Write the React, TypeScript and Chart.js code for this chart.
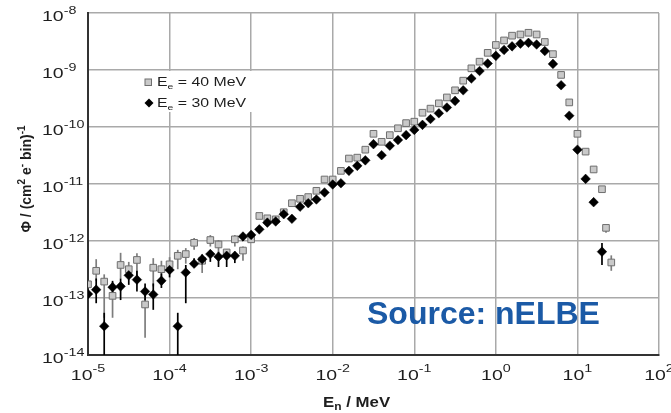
import React, { useEffect, useRef } from 'react';
import { Chart, registerables } from 'chart.js';

Chart.register(...registerables);

// ---------- data ----------
const energy30 = [
  1.0e-5, 1.26e-5, 1.58e-5, 2.0e-5, 2.51e-5, 3.16e-5, 3.98e-5, 5.01e-5, 6.31e-5, 7.94e-5,
  1.0e-4, 1.26e-4, 1.58e-4, 2.0e-4, 2.51e-4, 3.16e-4, 3.98e-4, 5.01e-4, 6.31e-4, 7.94e-4,
  1.0e-3, 1.26e-3, 1.58e-3, 2.0e-3, 2.51e-3, 3.16e-3, 3.98e-3, 5.01e-3, 6.31e-3, 7.94e-3,
  1.0e-2, 1.26e-2, 1.58e-2, 2.0e-2, 2.51e-2, 3.16e-2, 3.98e-2, 5.01e-2, 6.31e-2, 7.94e-2,
  1.0e-1, 1.26e-1, 1.58e-1, 2.0e-1, 2.51e-1, 3.16e-1, 3.98e-1, 5.01e-1, 6.31e-1, 7.94e-1,
  1.0, 1.26, 1.58, 2.0, 2.51, 3.16, 3.98, 5.01, 6.31, 7.94,
  10.0, 12.6, 15.8, 20.0,
];
const flux30 = [
  1.17e-13, 1.4e-13, 3.2e-14, 1.55e-13, 1.6e-13, 2.5e-13, 2.1e-13, 1.3e-13, 1.15e-13, 2.0e-13,
  3.1e-13, 3.2e-14, 2.8e-13, 4.0e-13, 4.8e-13, 5.9e-13, 5.3e-13, 5.5e-13, 5.5e-13, 1.2e-12,
  1.28e-12, 1.6e-12, 2.1e-12, 2.2e-12, 2.95e-12, 2.45e-12, 4.0e-12, 4.6e-12, 5.35e-12, 7.1e-12,
  9.8e-12, 1.03e-11, 1.7e-11, 2.08e-11, 2.6e-11, 5.0e-11, 3.2e-11, 4.7e-11, 5.9e-11, 7.2e-11,
  8.9e-11, 1.09e-10, 1.38e-10, 1.74e-10, 2.2e-10, 2.87e-10, 4.4e-10, 7.1e-10, 9.6e-10, 1.3e-9,
  1.77e-9, 2.25e-9, 2.6e-9, 2.9e-9, 3.0e-9, 2.8e-9, 2.15e-9, 1.28e-9, 5.4e-10, 1.58e-10,
  4.0e-11, 1.23e-11, 4.8e-12, 6.5e-13,
];
const energy40 = [...energy30, 22.4, 26.0];
const flux40 = [
  1.74e-13, 3.0e-13, 1.94e-13, 1.09e-13, 3.8e-13, 3.2e-13, 4.65e-13, 7.7e-14, 3.4e-13, 3.2e-13,
  3.9e-13, 5.5e-13, 5.9e-13, 9.3e-13, 4.5e-13, 1.04e-12, 8.7e-13, 6.3e-13, 1.07e-12, 6.8e-13,
  1.07e-12, 2.75e-12, 2.5e-12, 2.4e-12, 3.2e-12, 4.6e-12, 5.5e-12, 5.9e-12, 7.6e-12, 1.2e-11,
  1.2e-11, 1.7e-11, 2.8e-11, 2.9e-11, 4.0e-11, 7.6e-11, 5.5e-11, 7.2e-11, 9.5e-11, 1.17e-10,
  1.24e-10, 1.78e-10, 2.1e-10, 2.6e-10, 3.3e-10, 4.4e-10, 6.5e-10, 1.07e-9, 1.4e-9, 2.0e-9,
  2.75e-9, 3.3e-9, 4.0e-9, 4.2e-9, 4.5e-9, 4.2e-9, 3.1e-9, 1.9e-9, 8.2e-10, 2.7e-10,
  7.6e-11, 3.7e-11, 1.8e-11, 8.1e-12, 1.7e-12, 4.2e-13,
];
// [point index, lower end, upper end]
const errBars30: [number, number, number][] = [
  [1, 8.1e-14, 2.2e-13], [2, 5e-15, 5.5e-14], [3, 1.2e-13, 2.0e-13], [4, 9.2e-14, 2.2e-13],
  [5, 1.7e-13, 3.5e-13], [6, 1.3e-13, 3.0e-13], [7, 9e-14, 1.8e-13], [8, 6.2e-14, 1.8e-13],
  [9, 1.5e-13, 2.7e-13], [10, 2.3e-13, 4.0e-13], [11, 5e-15, 5.5e-14], [12, 8.1e-14, 3.8e-13],
  [13, 3.5e-13, 5.0e-13], [14, 3.8e-13, 5.8e-13], [15, 4.3e-13, 7.0e-13], [16, 3.5e-13, 6.5e-13],
  [17, 3.5e-13, 6.5e-13], [18, 4.1e-13, 6.5e-13], [19, 1.0e-12, 1.4e-12], [63, 3.8e-13, 9.2e-13],
];
const errBars40: [number, number, number][] = [
  [1, 2.0e-13, 4.8e-13], [2, 4.5e-14, 2.6e-13], [3, 4.5e-14, 1.9e-13], [4, 2.2e-13, 6.2e-13],
  [5, 2.3e-13, 4.3e-13], [6, 2.1e-13, 6.1e-13], [7, 2.0e-14, 1.1e-13], [8, 1.6e-13, 5.0e-13],
  [9, 2.2e-13, 4.5e-13], [10, 2.8e-13, 5.2e-13], [11, 3.2e-13, 7.0e-13], [12, 4.0e-13, 7.5e-13],
  [13, 7.0e-13, 1.13e-12], [14, 2.75e-13, 5.7e-13], [15, 8e-13, 1.27e-12], [16, 6.5e-13, 1.04e-12],
  [17, 5e-13, 7.2e-13], [18, 8e-13, 1.27e-12], [19, 4.5e-13, 8e-13], [64, 1.4e-12, 1.9e-12],
  [65, 3.0e-13, 5.6e-13],
];
const xTicks = [1e-5, 1e-4, 1e-3, 1e-2, 1e-1, 1, 10, 100];
const xTickExps = ['-5', '-4', '-3', '-2', '-1', '0', '1', '2'];
const yTicks = [1e-14, 1e-13, 1e-12, 1e-11, 1e-10, 1e-9, 1e-8];
const yTickExps = ['-14', '-13', '-12', '-11', '-10', '-9', '-8'];
const seriesEnergies = ['40 MeV', '30 MeV'];
const sourceText = 'Source: nELBE';

// ---------- styles ----------
const FAMILY = "'Liberation Sans', Arial, Helvetica, sans-serif";
const GREY_FILL = '#c9c9c9';
const GREY_EDGE = '#6f6f6f';
const GREY_BAR = '#7d7d7d';
const BLACK = '#000000';
const TEXT = '#1e1e1e';

type Seg = { t: string; size: number; dy?: number; bold?: boolean };

function segFont(s: Seg) {
  return `${s.bold ? 'bold ' : ''}${s.size}px ${FAMILY}`;
}
function richWidth(ctx: CanvasRenderingContext2D, segs: Seg[], hs: number) {
  let w = 0;
  for (const s of segs) {
    ctx.font = segFont(s);
    w += ctx.measureText(s.t).width * hs;
  }
  return w;
}
function drawRich(
  ctx: CanvasRenderingContext2D,
  segs: Seg[],
  x: number,
  y: number,
  hs: number,
  align: 'left' | 'center' | 'right',
  color: string
) {
  const w = richWidth(ctx, segs, hs);
  let cx = align === 'left' ? x : align === 'center' ? x - w / 2 : x - w;
  ctx.save();
  ctx.fillStyle = color;
  ctx.textAlign = 'left';
  ctx.textBaseline = 'alphabetic';
  for (const s of segs) {
    ctx.font = segFont(s);
    const sw = ctx.measureText(s.t).width * hs;
    ctx.save();
    ctx.translate(cx, y + (s.dy || 0));
    ctx.scale(hs, 1);
    ctx.fillText(s.t, 0, 0);
    ctx.restore();
    cx += sw;
  }
  ctx.restore();
}

const errorBarPlugin = {
  id: 'errorBars',
  beforeDatasetsDraw(chart: any) {
    const { ctx, chartArea, scales } = chart;
    const xs = scales.x;
    const ys = scales.y;
    ctx.save();
    ctx.beginPath();
    ctx.rect(chartArea.left, chartArea.top, chartArea.right - chartArea.left, chartArea.bottom - chartArea.top);
    ctx.clip();
    const list = [...chart.data.datasets].sort((a: any, b: any) => b.order - a.order);
    for (const ds of list) {
      const bars = ds.errorBars as [number, number, number][];
      if (!bars) continue;
      ctx.strokeStyle = ds.errorColor;
      ctx.lineWidth = 1.7;
      for (const [i, lo, hi] of bars) {
        const px = xs.getPixelForValue(ds.data[i].x);
        ctx.beginPath();
        ctx.moveTo(px, ys.getPixelForValue(lo));
        ctx.lineTo(px, ys.getPixelForValue(hi));
        ctx.stroke();
      }
    }
    ctx.restore();
  },
};

const textPlugin = {
  id: 'textLayer',
  afterDraw(chart: any) {
    const { ctx, scales } = chart;
    const xs = scales.x;
    const ys = scales.y;
    // y tick labels
    yTicks.forEach((v, i) => {
      const py = ys.getPixelForValue(v);
      drawRich(ctx, [{ t: '10', size: 15 }, { t: yTickExps[i], size: 11, dy: -7 }], 42, py + 8, 1.3, 'left', TEXT);
    });
    // x tick labels
    xTicks.forEach((v, i) => {
      const px = xs.getPixelForValue(v);
      drawRich(ctx, [{ t: '10', size: 15 }, { t: xTickExps[i], size: 11, dy: -8 }], px, 380, 1.3, 'center', TEXT);
    });
    // x title
    drawRich(
      ctx,
      [
        { t: 'E', size: 14, bold: true },
        { t: 'n', size: 10, dy: 3, bold: true },
        { t: ' / MeV', size: 14, bold: true },
      ],
      323,
      407,
      1.2,
      'left',
      TEXT
    );
    // y title (rotated)
    ctx.save();
    ctx.translate(31, 179);
    ctx.rotate(-Math.PI / 2);
    drawRich(
      ctx,
      [
        { t: 'Φ / (cm', size: 14, bold: true },
        { t: '2', size: 10, dy: -6, bold: true },
        { t: ' e', size: 14, bold: true },
        { t: '-', size: 10, dy: -6, bold: true },
        { t: ' bin)', size: 14, bold: true },
        { t: '-1', size: 10, dy: -6, bold: true },
      ],
      0,
      0,
      1,
      'center',
      TEXT
    );
    ctx.restore();

    // legend box
    ctx.save();
    ctx.fillStyle = '#ffffff';
    ctx.fillRect(140, 71, 112, 41);
    // grey square
    ctx.fillStyle = GREY_FILL;
    ctx.strokeStyle = GREY_EDGE;
    ctx.lineWidth = 1;
    ctx.fillRect(145, 79, 6.5, 6.5);
    ctx.strokeRect(145, 79, 6.5, 6.5);
    // black diamond
    ctx.fillStyle = BLACK;
    ctx.beginPath();
    ctx.moveTo(149, 98.5);
    ctx.lineTo(153.5, 103);
    ctx.lineTo(149, 107.5);
    ctx.lineTo(144.5, 103);
    ctx.closePath();
    ctx.fill();
    ctx.restore();
    const rows = [82, 103];
    seriesEnergies.forEach((e, i) => {
      drawRich(
        ctx,
        [
          { t: 'E', size: 12 },
          { t: 'e', size: 8, dy: 3 },
          { t: ' = ' + e, size: 12 },
        ],
        157,
        rows[i] + 4,
        1.32,
        'left',
        TEXT
      );
    });

    // source annotation
    ctx.save();
    ctx.fillStyle = '#1b5aa6';
    ctx.font = `bold 32px ${FAMILY}`;
    ctx.textAlign = 'left';
    ctx.textBaseline = 'alphabetic';
    ctx.fillText(sourceText, 367, 324);
    ctx.restore();
  },
};

export default function App() {
  const ref = useRef<HTMLCanvasElement | null>(null);
  useEffect(() => {
    if (!ref.current) return;
    const chart = new Chart(ref.current, {
      type: 'scatter',
      data: {
        datasets: [
          {
            label: 'E_e = ' + seriesEnergies[0],
            data: energy40.map((x, i) => ({ x, y: flux40[i] })),
            pointStyle: 'rect',
            pointRadius: 4.7,
            pointBackgroundColor: GREY_FILL,
            pointBorderColor: GREY_EDGE,
            pointBorderWidth: 1,
            showLine: false,
            order: 2,
            errorBars: errBars40,
            errorColor: GREY_BAR,
          } as any,
          {
            label: 'E_e = ' + seriesEnergies[1],
            data: energy30.map((x, i) => ({ x, y: flux30[i] })),
            pointStyle: 'rectRot',
            pointRadius: 4.8,
            pointBackgroundColor: BLACK,
            pointBorderColor: BLACK,
            pointBorderWidth: 0.5,
            showLine: false,
            order: 1,
            errorBars: errBars30,
            errorColor: BLACK,
          } as any,
        ],
      },
      options: {
        animation: false,
        responsive: false,
        events: [],
        layout: { padding: { left: 88, top: 13, right: 12, bottom: 58 } },
        plugins: { legend: { display: false }, tooltip: { enabled: false } },
        scales: {
          x: {
            type: 'logarithmic',
            min: 1e-5,
            max: 100,
            afterBuildTicks: (axis: any) => {
              axis.ticks = xTicks.map((v) => ({ value: v }));
            },
            ticks: { display: false },
            grid: { color: '#a9a9a9', lineWidth: 1.5, drawTicks: false },
            border: { color: '#333333', width: 2 },
          },
          y: {
            type: 'logarithmic',
            min: 1e-14,
            max: 1e-8,
            afterBuildTicks: (axis: any) => {
              axis.ticks = yTicks.map((v) => ({ value: v }));
            },
            ticks: { display: false },
            grid: { color: '#a9a9a9', lineWidth: 1.5, drawTicks: false },
            border: { color: '#333333', width: 2 },
          },
        },
      },
      plugins: [errorBarPlugin, textPlugin],
    });
    return () => chart.destroy();
  }, []);
  return (
    <div style={{ position: 'fixed', left: 0, top: 0, width: 671, height: 413, background: '#fff' }}>
      <canvas ref={ref} width={671} height={413} style={{ display: 'block' }} />
    </div>
  );
}
